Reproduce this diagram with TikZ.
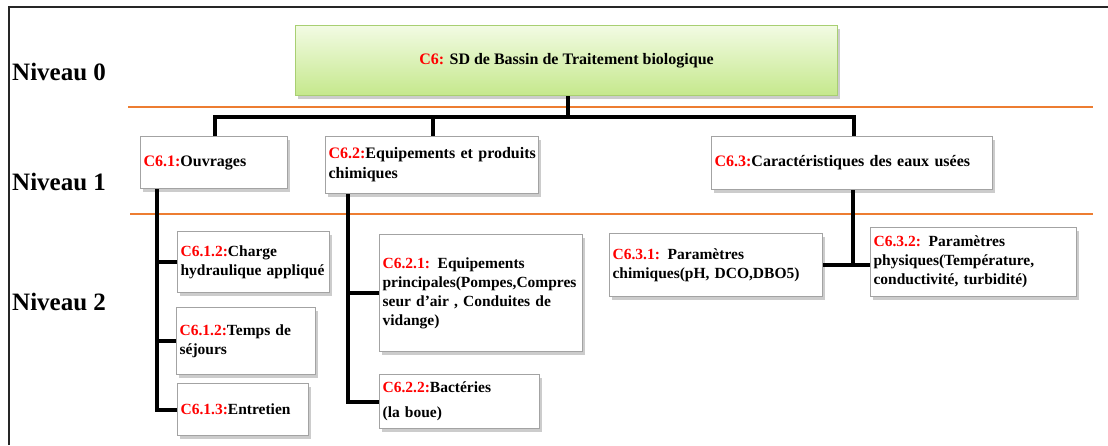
\documentclass[tikz,border=0pt]{standalone}
\usepackage{fontspec}
\setmainfont{Liberation Serif}
\usetikzlibrary{shadows}
\definecolor{codered}{HTML}{FF0000}
\definecolor{rulecol}{HTML}{ED7D31}
\definecolor{boxline}{HTML}{A3A3A3}
\definecolor{rootline}{HTML}{A8CF72}
\definecolor{roottop}{HTML}{F2FBE3}
\definecolor{rootbot}{HTML}{C5E88C}
\newcommand{\code}[1]{\textcolor{codered}{#1}}
\newcommand{\nohyph}{\hyphenpenalty=10000\relax\exhyphenpenalty=10000\relax}

\begin{document}
\begin{tikzpicture}[x=1pt,y=-1pt,
  card/.style={draw=boxline, line width=1.2pt, fill=white, anchor=north west,
    align=left, inner xsep=3pt, inner ysep=0pt,
    font=\bfseries\fontsize{15.5}{19}\selectfont\nohyph,
    drop shadow={shadow xshift=2pt, shadow yshift=-3pt, fill=black!40}},
  top card/.style={card, font=\bfseries\fontsize{16}{20}\selectfont\nohyph},
  rootbox/.style={draw=rootline, line width=1.2pt, top color=roottop, bottom color=rootbot,
    anchor=north west, align=center, font=\bfseries\fontsize{16}{20}\selectfont,
    drop shadow={shadow xshift=2pt, shadow yshift=-3pt, fill=black!40}},
  level/.style={anchor=west, inner sep=0pt, font=\bfseries\fontsize{25}{30}\selectfont},
  conn/.style={line width=4pt, draw=black, line join=miter},
  levelrule/.style={draw=rulecol, line width=1.5pt}]

\useasboundingbox (0,0) rectangle (1108,445);

% frame
\draw[line width=2.5pt, draw=black!85] (9,445) -- (9,7) -- (1108,7);

% level separators
\draw[levelrule] (128,107) -- (1093,107);
\draw[levelrule] (130,214) -- (1093,214);

% level labels
\node[level] (n0) at (12,72) {Niveau 0};
\node[level] (n1) at (12,182) {Niveau 1};
\node[level] (n2) at (12,302) {Niveau 2};

% level 0
\node[rootbox, minimum width=542pt, minimum height=70pt] (root) at (295,25)
  {\code{C6:} SD de Bassin de Traitement biologique};

% level 1
\node[top card, text width=141pt, minimum height=52pt] (c61) at (140,136)
  {\code{C6.1:}Ouvrages};
\node[top card, text width=207pt, minimum height=57pt] (c62) at (325,136)
  {\code{C6.2:}Equipements~et~produits\\chimiques};
\node[top card, text width=275pt, minimum height=53pt] (c63) at (711,136)
  {\code{C6.3:}Caractéristiques des eaux usées};

% level 2
\node[card, text width=146pt, minimum height=61pt] (c612a) at (177,231)
  {\code{C6.1.2:}Charge\\hydraulique appliqué};
\node[card, text width=133pt, minimum height=67pt] (c612b) at (176,307)
  {\code{C6.1.2:}Temps de\\séjours};
\node[card, text width=125pt, minimum height=52pt] (c613) at (177,383)
  {\code{C6.1.3:}Entretien};
\node[card, text width=197pt, minimum height=117pt] (c621) at (379,234)
  {\code{C6.2.1:} Equipements\\principales(Pompes,Compres\\seur d{\char"0027}air , Conduites de\\vidange)};
\node[card, text width=154pt, minimum height=54pt] (c622) at (379,374)
  {\code{C6.2.2:}Bactéries\\[6pt](la boue)};
\node[card, text width=207pt, minimum height=63pt] (c631) at (609,233)
  {\code{C6.3.1:} Paramètres\\chimiques(pH, DCO,DBO5)};
\node[card, text width=200pt, minimum height=69pt] (c632) at (870,227)
  {\code{C6.3.2:} Paramètres\\physiques(Température,\\conductivité, turbidité)};

% junction points
\coordinate (j0) at (568,117);
\coordinate (j1) at (215,117);
\coordinate (j2) at (433,117);
\coordinate (j3) at (854,117);
\coordinate (k1) at (157,0);
\coordinate (k2) at (348,0);
\coordinate (k3) at (853,265);

% level 0 -> level 1
\draw[conn] (root.south -| j0) -- (j0);
\draw[conn] (c61.north -| j1) -- (j1) -- (j3) -- (c63.north -| j3);
\draw[conn] (j2) -- (c62.north -| j2);

% C6.1 branch
\draw[conn] (c61.south -| k1) |- (c613.west);
\draw[conn] (c612a.west -| k1) -- (c612a.west);
\draw[conn] (c612b.west -| k1) -- (c612b.west);

% C6.2 branch
\draw[conn] (c62.south -| k2) |- (c622.west);
\draw[conn] (c621.west -| k2) -- (c621.west);

% C6.3 branch
\draw[conn] (c63.south -| k3) -- (k3);
\draw[conn] (c631.east |- k3) -- (c632.west |- k3);

\end{tikzpicture}
\end{document}
